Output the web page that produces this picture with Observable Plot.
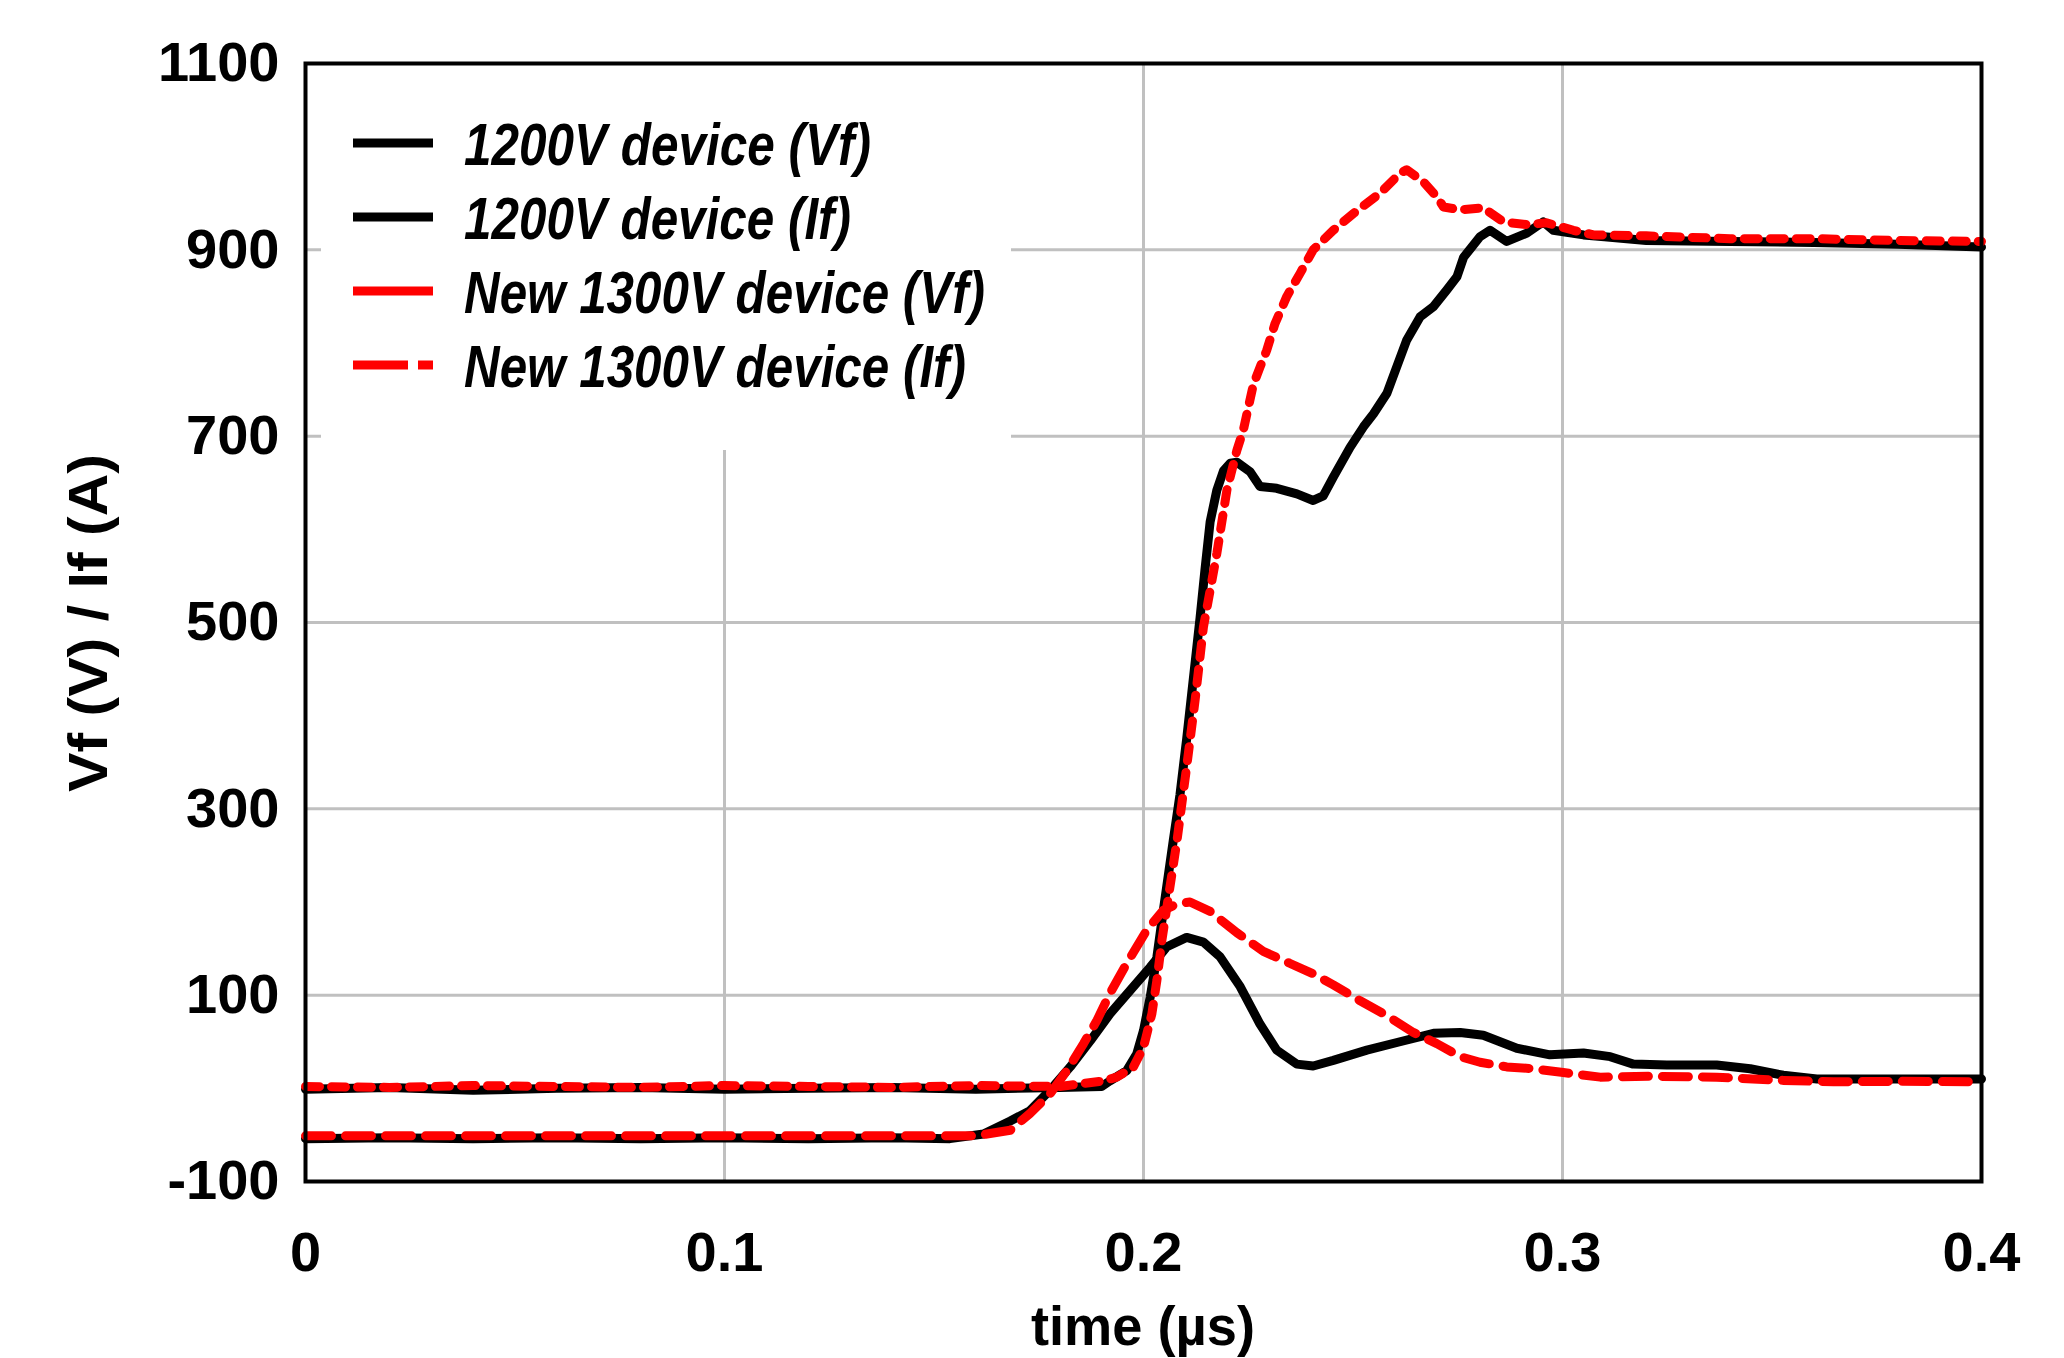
<!DOCTYPE html>
<html>
<head>
<meta charset="utf-8">
<script src="https://cdn.jsdelivr.net/npm/d3@7"></script>
<script src="https://cdn.jsdelivr.net/npm/@observablehq/plot@0.6"></script>
<style>
  html, body { margin: 0; padding: 0; background: #ffffff; }
  svg { display: block; }
</style>
</head>
<body>
<div id="chart"></div>
<script>
// ---- Data ----
const xTicks = [0, 0.1, 0.2, 0.3, 0.4];
const yTicks = [-100, 100, 300, 500, 700, 900, 1100];
const seriesNames = ["1200V device (Vf)", "1200V device (If)", "New 1300V device (Vf)", "New 1300V device (If)"];

// 1200V device (Vf)
const t1200Vf = [0, 0.02, 0.04, 0.06, 0.08, 0.1, 0.12, 0.14, 0.16, 0.18, 0.19, 0.192, 0.196, 0.1984, 0.2, 0.2016, 0.2032, 0.2047, 0.2071, 0.2087, 0.2103, 0.2119, 0.2135, 0.2147, 0.2159, 0.2175, 0.2191, 0.2207, 0.2223, 0.2254, 0.2278, 0.2318, 0.2366, 0.2405, 0.2429, 0.2453, 0.2493, 0.2525, 0.2549, 0.2581, 0.2604, 0.2628, 0.266, 0.2692, 0.2724, 0.2748, 0.2764, 0.2803, 0.2827, 0.2867, 0.2915, 0.2954, 0.2978, 0.305, 0.31, 0.32, 0.34, 0.36, 0.38, 0.4];
const v1200Vf = [-1, 1, -2, 0, 1, -1, 0, 1, -1, 1, 2, 8, 19, 37, 62, 98, 141, 190, 266, 315, 375, 440, 505, 558, 608, 642, 663, 671, 672, 662, 646, 644, 638, 631, 636, 656, 688, 710, 724, 746, 774, 803, 828, 839, 857, 871, 892, 914, 921, 909, 918, 930, 921, 916, 914, 910, 909, 908, 906, 903];

// 1200V device (If)
const t1200If = [0, 0.02, 0.04, 0.06, 0.08, 0.1, 0.12, 0.14, 0.1538, 0.1618, 0.1682, 0.1729, 0.1777, 0.1825, 0.1873, 0.192, 0.1968, 0.2016, 0.2056, 0.2103, 0.2143, 0.2183, 0.2231, 0.2278, 0.2318, 0.2366, 0.2405, 0.2453, 0.2533, 0.2612, 0.2692, 0.2756, 0.2811, 0.2891, 0.297, 0.305, 0.3114, 0.3169, 0.3249, 0.3368, 0.3448, 0.3527, 0.3607, 0.376, 0.4];
const v1200If = [-54, -53, -54, -53, -54, -53, -54, -53, -54, -49, -35, -24, -2, 23, 51, 80, 105, 130, 152, 162, 157, 141, 109, 69, 41, 26, 24, 30, 41, 50, 59, 60, 57, 43, 36, 38, 34, 26, 25, 25, 21, 14, 10, 10, 10];

// New 1300V device (Vf)
const t1300Vf = [0, 0.02, 0.04, 0.06, 0.08, 0.1, 0.12, 0.14, 0.16, 0.18, 0.1904, 0.1936, 0.1976, 0.2, 0.202, 0.2032, 0.2044, 0.2056, 0.208, 0.2103, 0.2123, 0.2143, 0.2175, 0.2199, 0.2223, 0.2238, 0.2262, 0.2278, 0.2294, 0.2314, 0.2342, 0.2374, 0.2405, 0.2453, 0.2501, 0.2565, 0.2612, 0.2628, 0.2668, 0.27, 0.2716, 0.2756, 0.2811, 0.2859, 0.2915, 0.2962, 0.3026, 0.3074, 0.32, 0.34, 0.36, 0.38, 0.4];
const v1300Vf = [2, 1, 3, 2, 1, 3, 2, 1, 3, 2, 8, 12, 23, 44, 80, 116, 159, 195, 266, 345, 416, 495, 574, 642, 685, 706, 755, 774, 792, 821, 850, 875, 900, 921, 939, 961, 982, 986, 973, 957, 946, 943, 945, 930, 927, 929, 921, 916, 915, 912, 912, 910, 909];

// New 1300V device (If)
const t1300If = [0, 0.02, 0.04, 0.06, 0.08, 0.1, 0.12, 0.14, 0.16, 0.1682, 0.1729, 0.1777, 0.1817, 0.1857, 0.1889, 0.192, 0.196, 0.2008, 0.2047, 0.208, 0.2111, 0.2159, 0.2223, 0.2286, 0.235, 0.2405, 0.2453, 0.2517, 0.2581, 0.2644, 0.27, 0.2756, 0.2803, 0.2867, 0.2931, 0.3002, 0.309, 0.3209, 0.3368, 0.3527, 0.3647, 0.38, 0.4];
const v1300If = [-51, -51, -51, -51, -51, -51, -51, -51, -51, -45, -27, -6, 19, 48, 73, 102, 134, 170, 191, 198, 200, 190, 167, 147, 134, 123, 111, 94, 78, 60, 48, 34, 28, 23, 21, 17, 12, 13, 12, 8.5, 7, 7.5, 7];

const toRows = (ts, vs) => ts.map((t, i) => ({t, v: vs[i]}));
const d1200Vf = toRows(t1200Vf, v1200Vf);
const d1200If = toRows(t1200If, v1200If);
const d1300Vf = toRows(t1300Vf, v1300Vf);
const d1300If = toRows(t1300If, v1300If);

const FONT = "'Liberation Sans', Arial, Helvetica, sans-serif";
const NARROW = "'Liberation Sans Narrow', 'Arial Narrow', 'Liberation Sans', Arial, sans-serif";
const GRID = "#c0c0c0";
const RED = "#ff0000";

const lineOpts = (stroke, dash, w) => ({
  x: "t", y: "v", stroke, strokeWidth: w, strokeLinejoin: "round", strokeLinecap: "round",
  strokeDasharray: dash || null
});

const chart = Plot.plot({
  width: 2064,
  height: 1358,
  marginLeft: 305,
  marginRight: 83,
  marginTop: 63,
  marginBottom: 177,
  style: {fontFamily: FONT, color: "#000", background: "#fff", overflow: "visible"},
  x: {domain: [0, 0.4]},
  y: {domain: [-100, 1100]},
  marks: [
    Plot.gridX(xTicks.slice(1, -1), {stroke: GRID, strokeOpacity: 1, strokeWidth: 3}),
    Plot.gridY(yTicks.slice(1, -1), {stroke: GRID, strokeOpacity: 1, strokeWidth: 3}),
    Plot.axisX({ticks: xTicks, tickSize: 0, tickPadding: 50, tickFormat: d => String(d), fontSize: 56, fontWeight: "bold", label: null}),
    Plot.axisY({ticks: yTicks, tickSize: 0, tickPadding: 26, tickFormat: d => String(d), fontSize: 56, fontWeight: "bold", label: null}),
    Plot.line(d1200Vf, lineOpts("#000", null, 9)),
    Plot.line(d1200If, lineOpts("#000", null, 9)),
    Plot.line(d1300Vf, lineOpts(RED, "14,12", 9)),
    Plot.line(d1300If, lineOpts(RED, "26,14", 9)),
    Plot.frame({stroke: "#000", strokeWidth: 4})
  ]
});

document.getElementById("chart").appendChild(chart);

// ---- Legend (inside the plot, top-left) ----
const svg = d3.select(chart);
const legend = d3.create("svg:g").attr("aria-label", "legend").attr("text-anchor", "start");
legend.append("rect").attr("x", 321).attr("y", 65).attr("width", 690).attr("height", 385).attr("fill", "#fff");
const legendStyles = [
  {stroke: "#000", dash: false},
  {stroke: "#000", dash: false},
  {stroke: RED, dash: false},
  {stroke: RED, dash: true}
];
const textLengths = [407, 387, 521, 502];
seriesNames.forEach((name, i) => {
  const cy = 143 + i * 74;
  const s = legendStyles[i];
  if (s.dash) {
    legend.append("line").attr("x1", 353).attr("x2", 408).attr("y1", cy).attr("y2", cy)
      .attr("stroke", s.stroke).attr("stroke-width", 9);
    legend.append("line").attr("x1", 418).attr("x2", 433).attr("y1", cy).attr("y2", cy)
      .attr("stroke", s.stroke).attr("stroke-width", 9);
  } else {
    legend.append("line").attr("x1", 353).attr("x2", 433).attr("y1", cy).attr("y2", cy)
      .attr("stroke", s.stroke).attr("stroke-width", 9);
  }
  legend.append("text").attr("x", 464).attr("y", cy + 22)
    .attr("text-anchor", "start")
    .attr("font-family", NARROW).attr("font-weight", "bold").attr("font-style", "italic")
    .attr("font-size", 60).attr("fill", "#000")
    .attr("textLength", textLengths[i]).attr("lengthAdjust", "spacingAndGlyphs")
    .text(name);
});
const firstLine = chart.querySelector('g[aria-label="line"]');
chart.insertBefore(legend.node(), firstLine);

// ---- Axis titles ----
svg.append("text")
  .attr("x", 1143).attr("y", 1345)
  .attr("text-anchor", "middle")
  .attr("font-family", FONT).attr("font-weight", "bold").attr("font-size", 56)
  .attr("textLength", 224).attr("lengthAdjust", "spacingAndGlyphs")
  .attr("fill", "#000")
  .text("time (µs)");

svg.append("text")
  .attr("transform", "translate(107,623) rotate(-90)")
  .attr("text-anchor", "middle")
  .attr("font-family", FONT).attr("font-weight", "bold").attr("font-size", 56)
  .attr("textLength", 338).attr("lengthAdjust", "spacingAndGlyphs")
  .attr("fill", "#000")
  .text("Vf (V) / If (A)");
</script>
</body>
</html>
